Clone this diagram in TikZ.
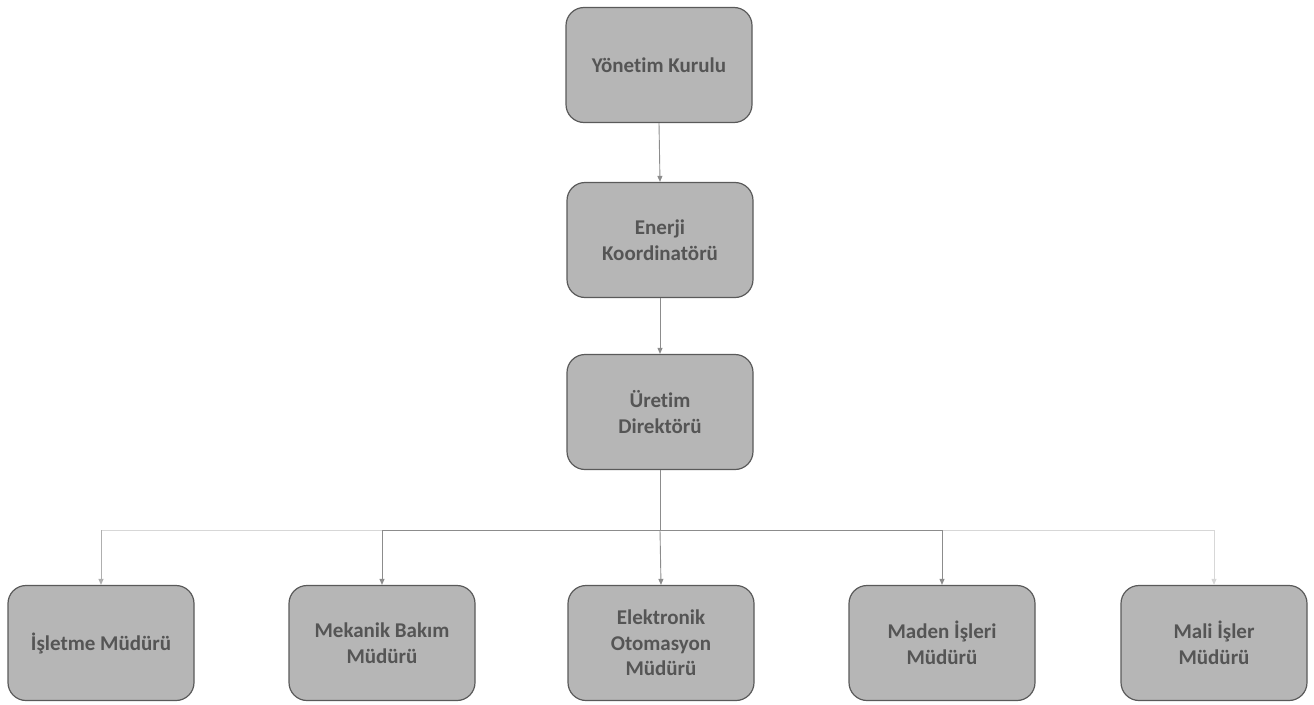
\documentclass[tikz,border=0pt]{standalone}
\usepackage{fontspec}
\setmainfont[Ligatures=NoCommon]{Carlito}
\usetikzlibrary{arrows.meta}
\definecolor{boxfill}{RGB}{182,182,182}
\definecolor{boxline}{RGB}{90,90,90}
\definecolor{txt}{RGB}{85,85,85}
\definecolor{conn}{RGB}{140,140,140}
\definecolor{faint}{RGB}{215,215,215}
\begin{document}
\begin{tikzpicture}[x=1pt,y=-1pt,
  orgbox/.style={draw=boxline, line width=1.2pt, fill=boxfill, rounded corners=18pt,
    minimum width=186pt, minimum height=115pt, align=center, text=txt,
    font=\fontsize{21}{25.5}\selectfont\bfseries, inner sep=2pt},
  link/.style={draw=conn, line width=0.9pt, -{Triangle[length=6pt,width=5pt]}},
  busline/.style={draw=conn, line width=0.9pt},
  fainted/.style={draw=faint, line width=0.9pt}]
\useasboundingbox (0,0) rectangle (1314,704);
\node[orgbox] (yk) at (659,65) {Yönetim Kurulu};
\node[orgbox] (ek) at (660,240) {Enerji\\Koordinatörü};
\node[orgbox] (ud) at (660,412) {Üretim\\Direktörü};
\node[orgbox] (im) at (101,643) {İşletme Müdürü};
\node[orgbox] (mb) at (382,643) {Mekanik Bakım\\Müdürü};
\node[orgbox] (eo) at (661,643) {Elektronik\\Otomasyon\\Müdürü};
\node[orgbox] (mi) at (942,643) {Maden İşleri\\Müdürü};
\node[orgbox] (mm) at (1214,643) {Mali İşler\\Müdürü};
\coordinate (busL) at (101,530);
\coordinate (busML) at (382,530);
\coordinate (busC) at (660,530);
\coordinate (busMR) at (942,530);
\coordinate (busR) at (1214,530);
\draw[link] (yk.south) -- (ek.north);
\draw[link] (ek.south) -- (ud.north);
\draw[fainted] (busL) -- (busML);
\draw[fainted] (busMR) -- (busR);
\draw[busline] (busML) -- (busMR);
\draw[busline] (ud.south) -- (busC);
\draw[link] (busC) -- (eo.north);
\draw[link] (busML) -- (mb.north);
\draw[link] (busMR) -- (mi.north);
\draw[link, draw=conn!70] (busL) -- (im.north);
\draw[link, draw=faint] (busR) -- (mm.north);
\end{tikzpicture}
\end{document}
